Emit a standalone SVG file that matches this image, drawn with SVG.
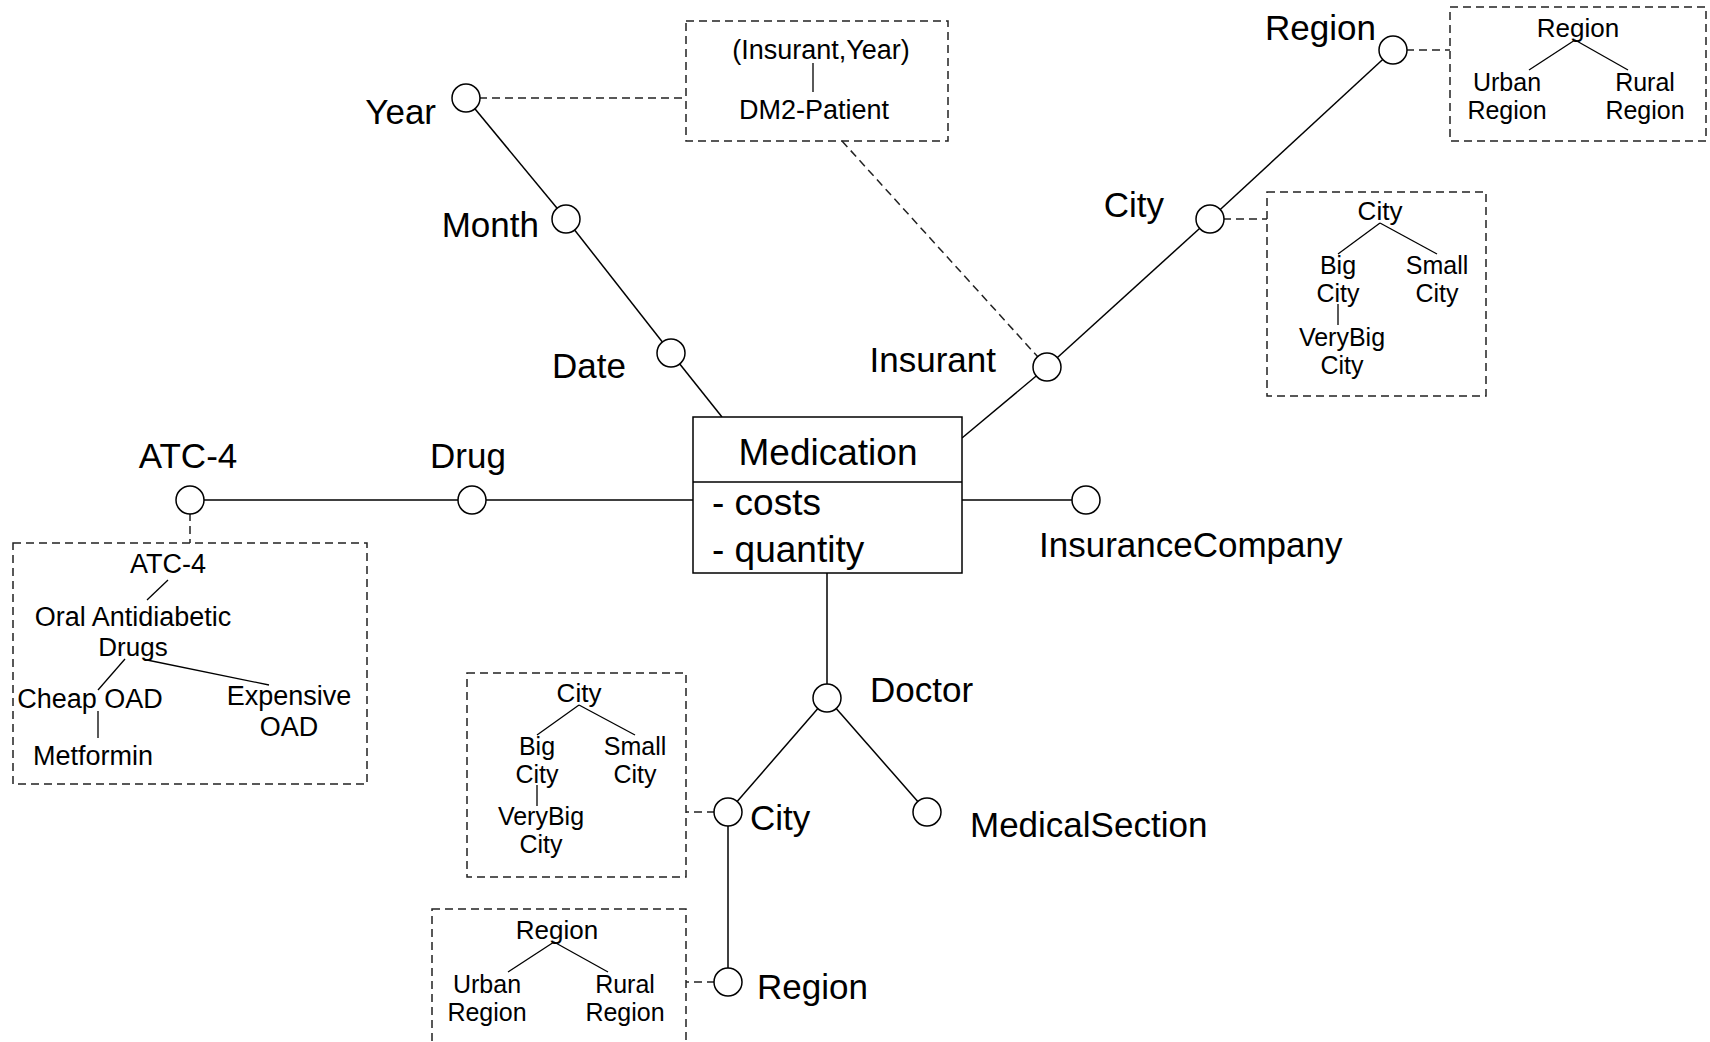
<svg xmlns="http://www.w3.org/2000/svg" width="1710" height="1042" viewBox="0 0 1710 1042">
<style>
 .ln{stroke:#000;stroke-width:1.5;fill:none}
 .dl{stroke:#222;stroke-width:1.5;fill:none;stroke-dasharray:8 5}
 .th{stroke:#000;stroke-width:1.3;fill:none}
 .nd{fill:#fff;stroke:#000;stroke-width:1.5}
 .box{fill:#fff;stroke:#000;stroke-width:1.5}
 .db{fill:none;stroke:#222;stroke-width:1.5;stroke-dasharray:8 5}
 text{font-family:"Liberation Sans",Arial,sans-serif;fill:#000}
 .lg{font-size:35px}
 .md{font-size:37px}
 .sm{font-size:25px}
 .s26{font-size:26px}
 .s27{font-size:27px}
 .c{text-anchor:middle}
 .e{text-anchor:end}
</style>
<rect x="0" y="0" width="1710" height="1042" fill="#fff"/>

<g id="connectors">
 <line class="ln" x1="466" y1="98" x2="566" y2="219"/>
 <line class="ln" x1="566" y1="219" x2="671" y2="353"/>
 <line class="ln" x1="671" y1="353" x2="722" y2="417"/>
 <line class="ln" x1="962" y1="438" x2="1047" y2="367"/>
 <line class="ln" x1="1047" y1="367" x2="1210" y2="219"/>
 <line class="ln" x1="1210" y1="219" x2="1393" y2="50"/>
 <line class="ln" x1="190" y1="500" x2="472" y2="500"/>
 <line class="ln" x1="472" y1="500" x2="693" y2="500"/>
 <line class="ln" x1="962" y1="500" x2="1086" y2="500"/>
 <line class="ln" x1="827" y1="573" x2="827" y2="698"/>
 <line class="ln" x1="827" y1="698" x2="728" y2="812"/>
 <line class="ln" x1="827" y1="698" x2="927" y2="812"/>
 <line class="ln" x1="728" y1="812" x2="728" y2="982"/>
 <line class="dl" x1="466" y1="98" x2="686" y2="98"/>
 <line class="dl" x1="842" y1="141" x2="1047" y2="367"/>
 <line class="dl" x1="1210" y1="219" x2="1267" y2="219"/>
 <line class="dl" x1="1393" y1="50" x2="1450" y2="50"/>
 <line class="dl" x1="190" y1="500" x2="190" y2="543"/>
 <line class="dl" x1="728" y1="812" x2="686" y2="812"/>
 <line class="dl" x1="728" y1="982" x2="686" y2="982"/>
</g>

<g id="medication">
 <rect class="box" x="693" y="417" width="269" height="156"/>
 <line class="ln" x1="693" y1="482" x2="962" y2="482"/>
 <text class="md c" x="828" y="465">Medication</text>
 <text class="md" x="712" y="515">- costs</text>
 <text class="md" x="712" y="562">- quantity</text>
</g>

<g id="year"><circle class="nd" cx="466" cy="98" r="14"/><text class="lg e" x="436" y="124">Year</text></g>
<g id="month"><circle class="nd" cx="566" cy="219" r="14"/><text class="lg e" x="539" y="237">Month</text></g>
<g id="date"><circle class="nd" cx="671" cy="353" r="14"/><text class="lg e" x="626" y="378">Date</text></g>
<g id="insurant"><circle class="nd" cx="1047" cy="367" r="14"/><text class="lg e" x="996" y="372">Insurant</text></g>
<g id="city-ins"><circle class="nd" cx="1210" cy="219" r="14"/><text class="lg e" x="1164" y="217">City</text></g>
<g id="region-ins"><circle class="nd" cx="1393" cy="50" r="14"/><text class="lg e" x="1376" y="40">Region</text></g>
<g id="atc4"><circle class="nd" cx="190" cy="500" r="14"/><text class="lg c" x="188" y="468">ATC-4</text></g>
<g id="drug"><circle class="nd" cx="472" cy="500" r="14"/><text class="lg c" x="468" y="468">Drug</text></g>
<g id="insurancecompany"><circle class="nd" cx="1086" cy="500" r="14"/><text class="lg" x="1039" y="557">InsuranceCompany</text></g>
<g id="doctor"><circle class="nd" cx="827" cy="698" r="14"/><text class="lg" x="870" y="702">Doctor</text></g>
<g id="city-doc"><circle class="nd" cx="728" cy="812" r="14"/><text class="lg" x="750" y="830">City</text></g>
<g id="medicalsection"><circle class="nd" cx="927" cy="812" r="14"/><text class="lg" x="970" y="837">MedicalSection</text></g>
<g id="region-doc"><circle class="nd" cx="728" cy="982" r="14"/><text class="lg" x="757" y="999">Region</text></g>

<g id="dm2-box">
 <rect class="db" x="686" y="21" width="262" height="120"/>
 <text class="s27 c" x="821" y="59">(Insurant,Year)</text>
 <line class="th" x1="813" y1="63" x2="813" y2="92"/>
 <text class="s27 c" x="814" y="119">DM2-Patient</text>
</g>

<g id="region-ins-box">
 <rect class="db" x="1450" y="7" width="256" height="134"/>
 <text class="s26 c" x="1578" y="37">Region</text>
 <line class="th" x1="1575" y1="40" x2="1529" y2="70"/>
 <line class="th" x1="1575" y1="40" x2="1628" y2="70"/>
 <text class="sm c" x="1507" y="91">Urban</text>
 <text class="sm c" x="1507" y="119">Region</text>
 <text class="sm c" x="1645" y="91">Rural</text>
 <text class="sm c" x="1645" y="119">Region</text>
</g>

<g id="city-ins-box">
 <rect class="db" x="1267" y="192" width="219" height="204"/>
 <text class="s26 c" x="1380" y="220">City</text>
 <line class="th" x1="1380" y1="223" x2="1338" y2="254"/>
 <line class="th" x1="1380" y1="223" x2="1437" y2="254"/>
 <text class="sm c" x="1338" y="274">Big</text>
 <text class="sm c" x="1338" y="302">City</text>
 <text class="sm c" x="1437" y="274">Small</text>
 <text class="sm c" x="1437" y="302">City</text>
 <line class="th" x1="1338" y1="304" x2="1338" y2="325"/>
 <text class="sm c" x="1342" y="346">VeryBig</text>
 <text class="sm c" x="1342" y="374">City</text>
</g>

<g id="atc-box">
 <rect class="db" x="13" y="543" width="354" height="241"/>
 <text class="s27 c" x="168" y="573">ATC-4</text>
 <line class="th" x1="168" y1="580" x2="147" y2="600"/>
 <text class="s27 c" x="133" y="626">Oral Antidiabetic</text>
 <text class="s26 c" x="133" y="656">Drugs</text>
 <line class="th" x1="125" y1="659" x2="98" y2="690"/>
 <line class="th" x1="147" y1="660" x2="269" y2="685"/>
 <text class="s27 c" x="90" y="708">Cheap OAD</text>
 <line class="th" x1="98" y1="711" x2="98" y2="738"/>
 <text class="s27 c" x="93" y="765">Metformin</text>
 <text class="s27 c" x="289" y="705">Expensive</text>
 <text class="s27 c" x="289" y="736">OAD</text>
</g>

<g id="city-doc-box">
 <rect class="db" x="467" y="673" width="219" height="204"/>
 <text class="s26 c" x="579" y="702">City</text>
 <line class="th" x1="579" y1="705" x2="537" y2="735"/>
 <line class="th" x1="579" y1="705" x2="635" y2="735"/>
 <text class="sm c" x="537" y="755">Big</text>
 <text class="sm c" x="537" y="783">City</text>
 <text class="sm c" x="635" y="755">Small</text>
 <text class="sm c" x="635" y="783">City</text>
 <line class="th" x1="537" y1="785" x2="537" y2="806"/>
 <text class="sm c" x="541" y="825">VeryBig</text>
 <text class="sm c" x="541" y="853">City</text>
</g>

<g id="region-doc-box">
 <rect class="db" x="432" y="909" width="254" height="150"/>
 <text class="s26 c" x="557" y="939">Region</text>
 <line class="th" x1="554" y1="942" x2="508" y2="972"/>
 <line class="th" x1="554" y1="942" x2="608" y2="972"/>
 <text class="sm c" x="487" y="993">Urban</text>
 <text class="sm c" x="487" y="1021">Region</text>
 <text class="sm c" x="625" y="993">Rural</text>
 <text class="sm c" x="625" y="1021">Region</text>
</g>
</svg>
